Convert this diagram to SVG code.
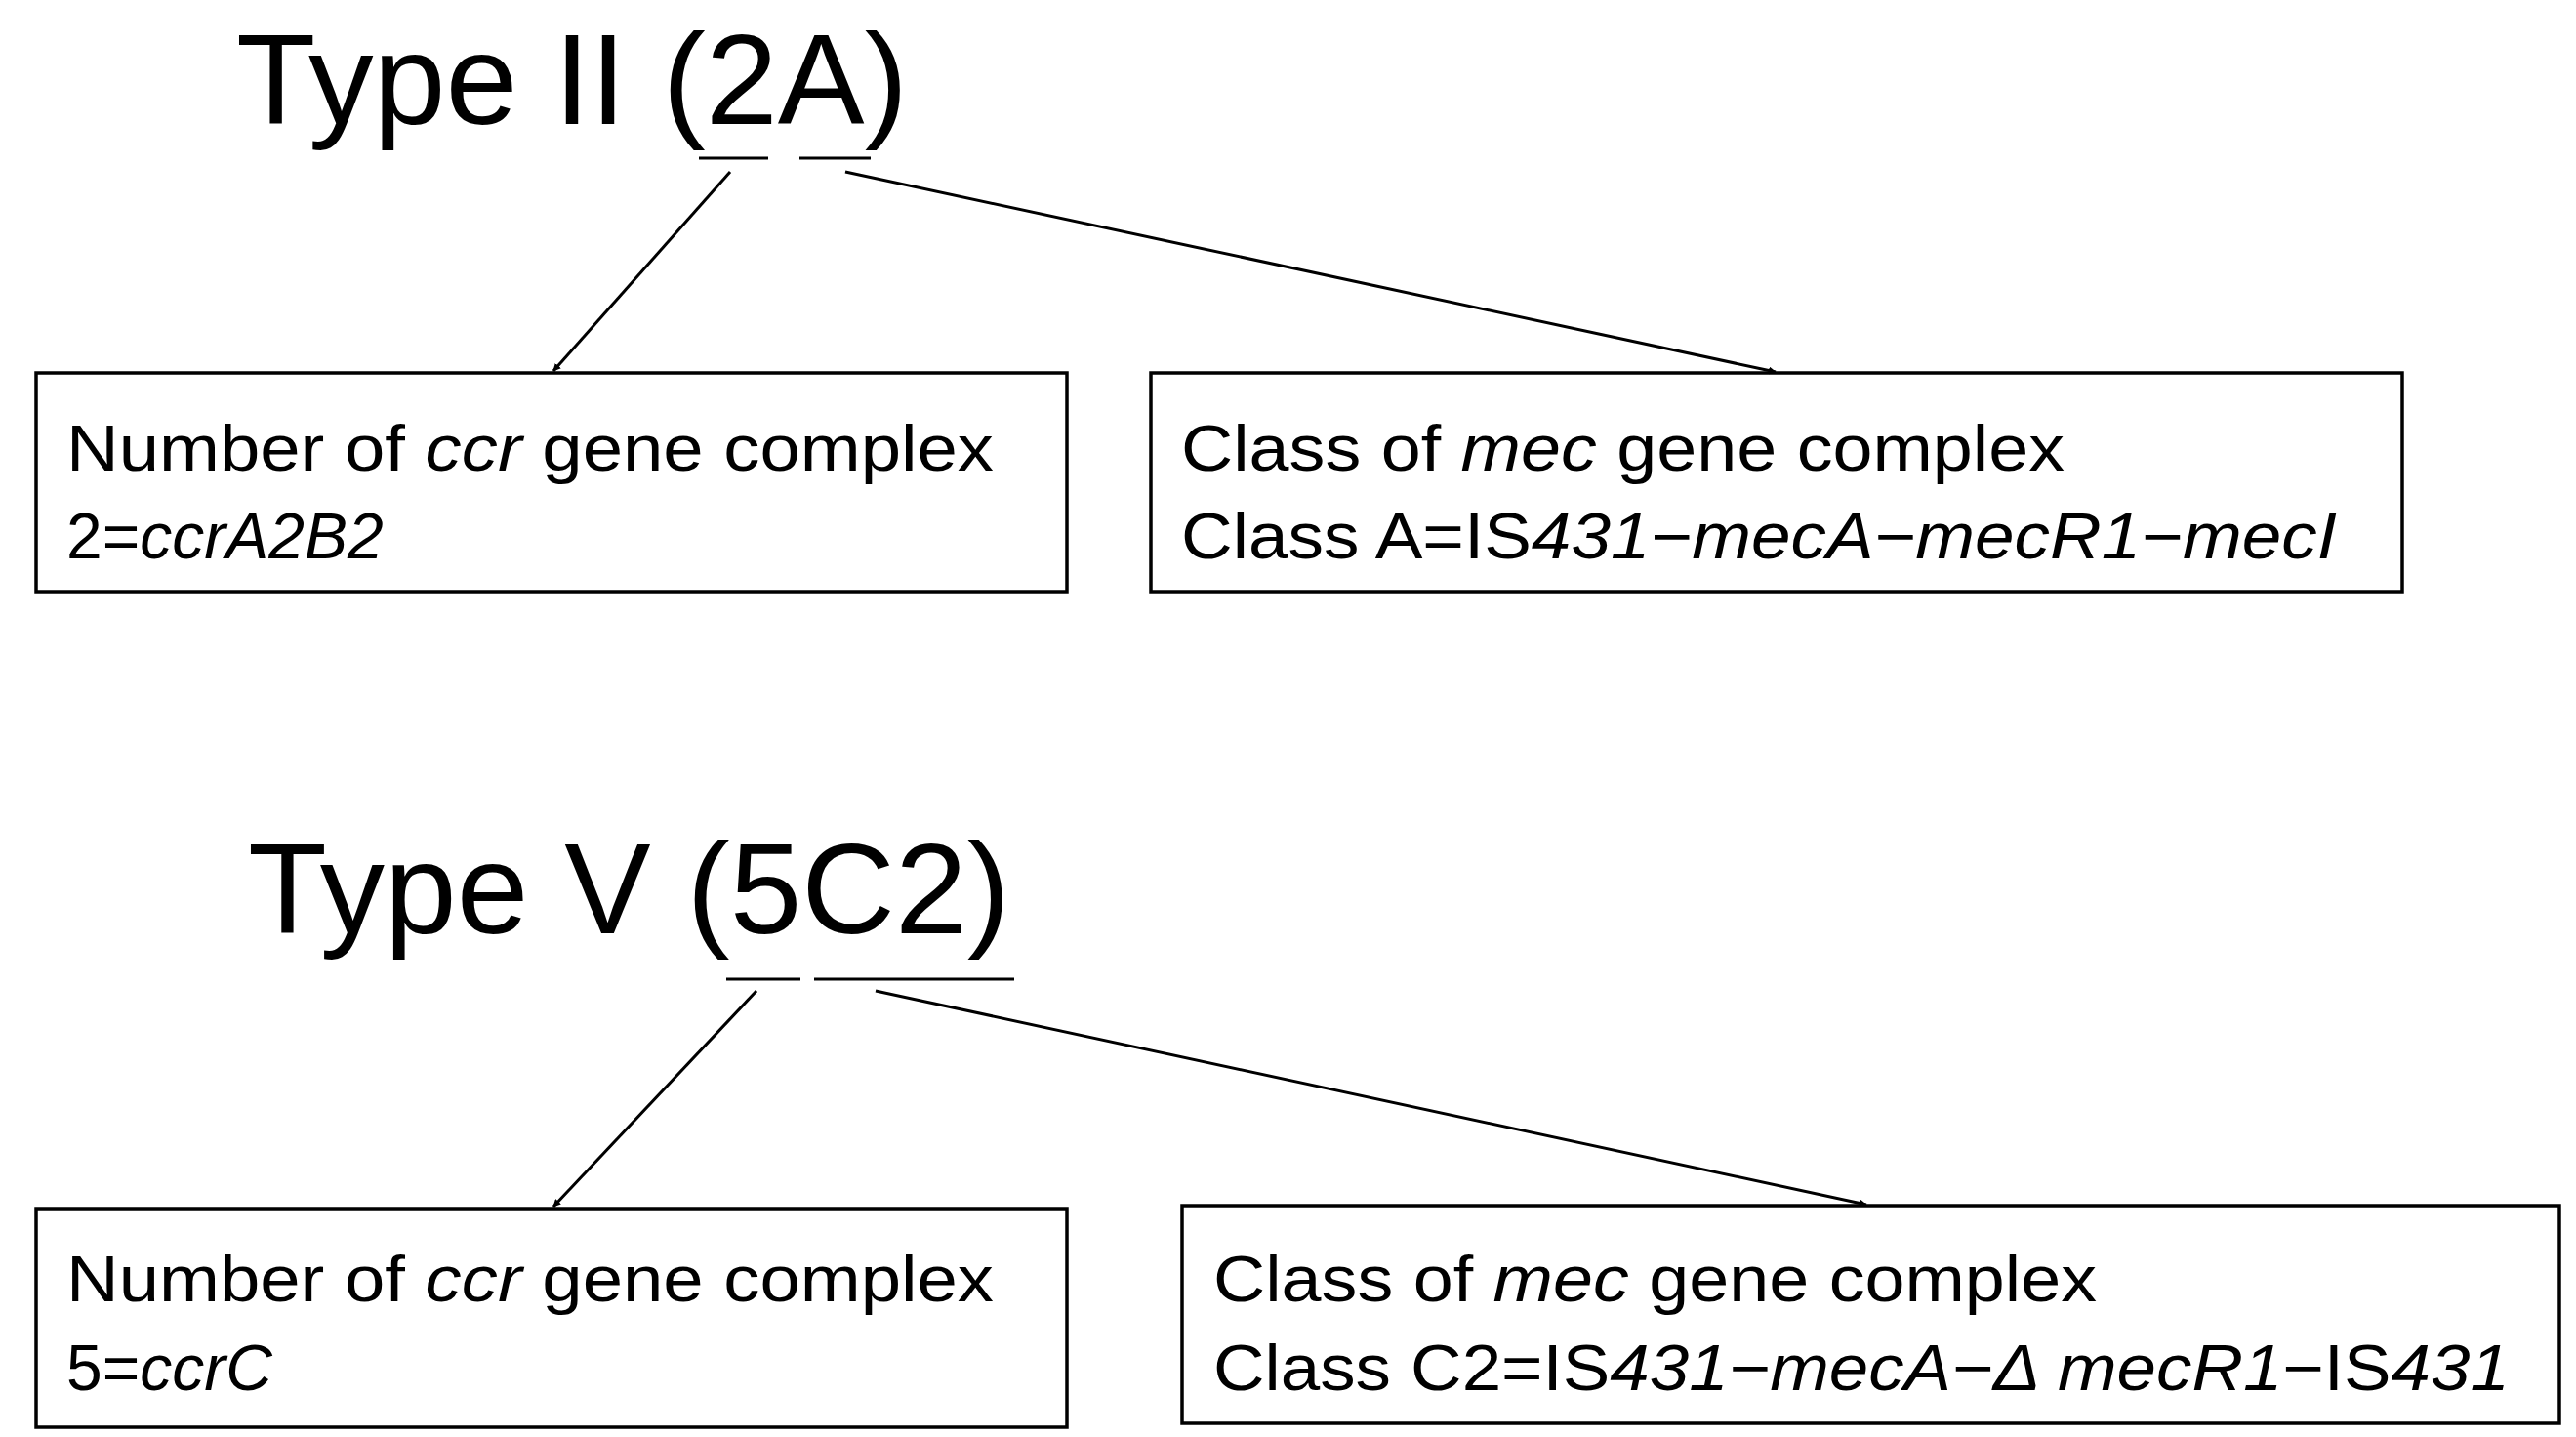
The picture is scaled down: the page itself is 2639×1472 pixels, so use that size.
<svg xmlns="http://www.w3.org/2000/svg" width="2639" height="1472" viewBox="0 0 2639 1472">
<style>
.t{font-family:"Liberation Sans",Arial,sans-serif;fill:#000}
.title{font-size:132px}
.lb{font-size:66px}
.i{font-style:italic}
.box{fill:#fff;stroke:#000;stroke-width:3.5}
.ul{stroke:#000;stroke-width:3}
.c{stroke:#000;stroke-width:3;fill:none;marker-end:url(#ah)}
</style>
<defs>
<marker id="ah" viewBox="0 0 10 10" refX="9" refY="5" markerWidth="8" markerHeight="8" markerUnits="userSpaceOnUse" orient="auto"><path d="M0,0L10,5L0,10z" fill="#000"/></marker>
</defs>
<rect width="2639" height="1472" fill="#fff"/>
<g id="title1"><text class="t title" x="242" y="127" textLength="688" lengthAdjust="spacingAndGlyphs">Type II (2A)</text>
<line class="ul" x1="716" y1="162" x2="787" y2="162"/><line class="ul" x1="819" y1="162" x2="892" y2="162"/></g>
<g id="title2"><text class="t title" x="254" y="956" textLength="781" lengthAdjust="spacingAndGlyphs">Type V (5C2)</text>
<line class="ul" x1="744" y1="1003" x2="820" y2="1003"/><line class="ul" x1="834" y1="1003" x2="1039" y2="1003"/></g>
<g id="box1"><rect class="box" x="37" y="382" width="1056" height="224"/>
<text class="t lb" x="68" y="482" textLength="950" lengthAdjust="spacingAndGlyphs">Number of <tspan class="i">ccr</tspan> gene complex</text>
<text class="t lb" x="68" y="572">2=<tspan class="i">ccrA2B2</tspan></text></g>
<g id="box2"><rect class="box" x="1179" y="382" width="1282" height="224"/>
<text class="t lb" x="1210" y="482" textLength="905" lengthAdjust="spacingAndGlyphs">Class of <tspan class="i">mec</tspan> gene complex</text>
<text class="t lb" x="1210" y="572" textLength="1184" lengthAdjust="spacingAndGlyphs">Class A=IS<tspan class="i">431−mecA−mecR1−mecI</tspan></text></g>
<g id="box3"><rect class="box" x="37" y="1238" width="1056" height="224"/>
<text class="t lb" x="68" y="1333" textLength="950" lengthAdjust="spacingAndGlyphs">Number of <tspan class="i">ccr</tspan> gene complex</text>
<text class="t lb" x="68" y="1424">5=<tspan class="i">ccrC</tspan></text></g>
<g id="box4"><rect class="box" x="1211" y="1235" width="1411" height="223"/>
<text class="t lb" x="1243" y="1333" textLength="905" lengthAdjust="spacingAndGlyphs">Class of <tspan class="i">mec</tspan> gene complex</text>
<text class="t lb" x="1243" y="1424" textLength="1328" lengthAdjust="spacingAndGlyphs">Class C2=IS<tspan class="i">431−mecA−Δ mecR1</tspan>−IS<tspan class="i">431</tspan></text></g>
<g id="connectors">
<line class="c" x1="748" y1="176" x2="567" y2="380"/>
<line class="c" x1="866" y1="176" x2="1819" y2="381"/>
<line class="c" x1="775" y1="1015" x2="567" y2="1236"/>
<line class="c" x1="897" y1="1015" x2="1912" y2="1234"/>
</g>
</svg>
